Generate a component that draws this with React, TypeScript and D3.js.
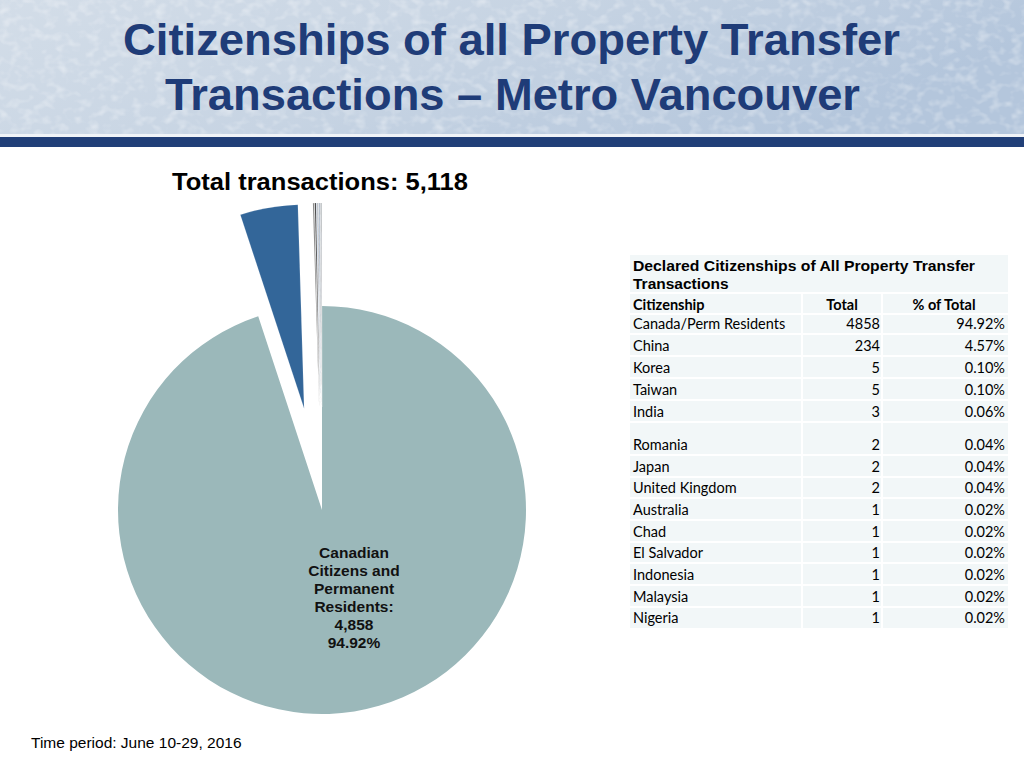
import React from "react";
import * as d3 from "d3";

const citizenships = ["Canada/Perm Residents","China","Korea","Taiwan","India","Romania","Japan","United Kingdom","Australia","Chad","El Salvador","Indonesia","Malaysia","Nigeria"];
const totals = [4858,234,5,5,3,2,2,2,1,1,1,1,1,1];
const pctLabels = ["94.92%","4.57%","0.10%","0.10%","0.06%","0.04%","0.04%","0.04%","0.02%","0.02%","0.02%","0.02%","0.02%","0.02%"];
const sliceColors = ["#9BB8BA","#336699","#7F7F7F","#3A3A3A","#A9BCD6","#5A5A5A","#C8D3E0","#2B4F7E","#999999","#555555","#B6C7D9","#444444","#8FA6C1","#666666"];
const titleLines = ["Citizenships of all Property Transfer","Transactions \u2013 Metro Vancouver"];
const mainLabel = ["Canadian","Citizens and","Permanent","Residents:","4,858","94.92%"];

const W = 1024, H = 767;
const cx = 322, cy = 510, R = 204, EXPLODE = 103;

const rowTops = [314,334,356,378,400,422,455,477,498,520,542,563,585,607];
const rowBottoms = [334,356,378,400,422,455,477,498,520,542,563,585,607,628];

export default function App() {
  const pie = d3.pie<number>().sort(null).value(d => d)(totals);
  const arc = d3.arc<d3.PieArcDatum<number>>().innerRadius(0).outerRadius(R);

  const tx0 = 630, tx1 = 1008, c1 = 802, c2 = 882;
  const tableFont = "Lato, 'Open Sans', sans-serif";
  const arial = "'Liberation Sans', Arial, sans-serif";

  return (
    <svg width={W} height={H} style={{ position: "absolute", left: 0, top: 0, background: "#fff" }}>
      <defs>
        <linearGradient id="hdr" x1="0" y1="0" x2="1" y2="0.3">
          <stop offset="0" stopColor="#D3DDE8" />
          <stop offset="0.5" stopColor="#C7D4E3" />
          <stop offset="1" stopColor="#B4C6DC" />
        </linearGradient>
        <filter id="tex" x="0" y="0" width="100%" height="100%">
          <feTurbulence type="fractalNoise" baseFrequency="0.09 0.12" numOctaves="2" seed="3" result="n" />
          <feColorMatrix in="n" type="matrix" values="0 0 0 0 1  0 0 0 0 1  0 0 0 0 1  0 0 0 1.6 -0.75" />
        </filter>
      </defs>
      <rect x={0} y={0} width={W} height={134} fill="url(#hdr)" />
      <rect x={0} y={0} width={W} height={134} filter="url(#tex)" opacity={0.55} />
      <rect x={0} y={134} width={W} height={3} fill="#F0F3F7" />
      <rect x={0} y={137} width={W} height={10} fill="#213F78" />
      {titleLines.map((t, i) => (
        <text key={i} x={i === 0 ? 123 : 165} y={55 + i * 55}
          fontFamily={arial}
          fontWeight="bold" fontSize={44.5} fill="#1F3C78"
          textLength={i === 0 ? 777 : 695} lengthAdjust="spacingAndGlyphs">{t}</text>
      ))}

      <text x={172} y={190} fontFamily={arial} fontWeight="bold" fontSize={23.5} fill="#000"
        textLength={296} lengthAdjust="spacingAndGlyphs">Total transactions: 5,118</text>

      {pie.map((p, i) => {
        const mid = (p.startAngle + p.endAngle) / 2;
        const off = i === 0 ? 0 : EXPLODE;
        const dx = Math.sin(mid) * off, dy = -Math.cos(mid) * off;
        return (
          <path key={i} d={arc(p) || ""} transform={`translate(${cx + dx},${cy + dy})`}
            fill={sliceColors[i]} stroke={i === 0 ? "none" : "#fff"} strokeWidth={i === 0 ? 0 : 0.15} />
        );
      })}
      {mainLabel.map((t, i) => (
        <text key={i} x={354} y={558 + i * 18} textAnchor="middle"
          fontFamily={arial} fontWeight="bold" fontSize={15.5} fill="#111">{t}</text>
      ))}

      <rect x={tx0} y={255} width={tx1 - tx0} height={628 - 255} fill="#F2F7F8" />
      <text x={633} y={271} fontFamily={arial} fontWeight="bold" fontSize={15.5} fill="#000"
        textLength={342} lengthAdjust="spacingAndGlyphs">Declared Citizenships of All Property Transfer</text>
      <text x={633} y={289} fontFamily={arial} fontWeight="bold" fontSize={15.5} fill="#000">Transactions</text>
      <line x1={tx0} x2={tx1} y1={293} y2={293} stroke="#fff" strokeWidth={2} />
      {rowTops.map((t, i) => (
        <line key={i} x1={tx0} x2={tx1} y1={t} y2={t} stroke="#fff" strokeWidth={2} />
      ))}
      <line x1={c1} x2={c1} y1={293} y2={628} stroke="#fff" strokeWidth={2} />
      <line x1={c2} x2={c2} y1={293} y2={628} stroke="#fff" strokeWidth={2} />
      <text x={633} y={310} fontFamily={tableFont} fontWeight="bold" fontSize={14.5} fill="#000">Citizenship</text>
      <text x={842} y={310} textAnchor="middle" fontFamily={tableFont} fontWeight="bold" fontSize={14.5} fill="#000">Total</text>
      <text x={944} y={310} textAnchor="middle" fontFamily={tableFont} fontWeight="bold" fontSize={14.5} fill="#000">% of Total</text>
      {citizenships.map((c, i) => {
        const y = rowBottoms[i] - 5;
        return (
          <g key={c} fontFamily={tableFont} fontSize={14.5} fill="#000">
            <text x={633} y={y}>{c}</text>
            <text x={880} y={y} textAnchor="end">{totals[i]}</text>
            <text x={1005} y={y} textAnchor="end">{pctLabels[i]}</text>
          </g>
        );
      })}

      <text x={31} y={748} fontFamily={arial} fontSize={15.5} fill="#000">Time period: June 10-29, 2016</text>
    </svg>
  );
}
